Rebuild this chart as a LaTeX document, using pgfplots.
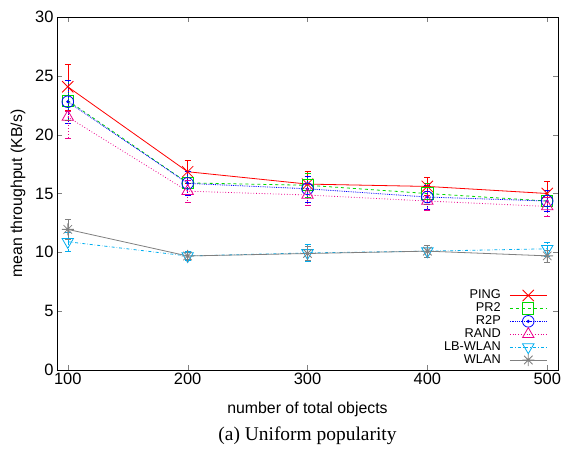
\documentclass[border=0pt]{standalone}
\usepackage{pgfplots}
\pgfplotsset{compat=1.18}
\usepackage{fontspec}
\setmainfont{Liberation Sans}
\newfontfamily\serif{Liberation Serif}
\definecolor{gpgreen}{RGB}{0,215,0}
\definecolor{gpgray}{RGB}{128,128,128}
\pgfdeclareplotmark{gpstar}{%
  \pgfpathmoveto{\pgfqpoint{-\pgfplotmarksize}{0pt}}\pgfpathlineto{\pgfqpoint{\pgfplotmarksize}{0pt}}%
  \pgfpathmoveto{\pgfqpoint{0pt}{-\pgfplotmarksize}}\pgfpathlineto{\pgfqpoint{0pt}{\pgfplotmarksize}}%
  \pgfpathmoveto{\pgfqpoint{-.7071\pgfplotmarksize}{-.7071\pgfplotmarksize}}\pgfpathlineto{\pgfqpoint{.7071\pgfplotmarksize}{.7071\pgfplotmarksize}}%
  \pgfpathmoveto{\pgfqpoint{-.7071\pgfplotmarksize}{.7071\pgfplotmarksize}}\pgfpathlineto{\pgfqpoint{.7071\pgfplotmarksize}{-.7071\pgfplotmarksize}}%
  \pgfusepathqstroke}
\pgfdeclareplotmark{odot}{%
  \pgfpathcircle{\pgfpointorigin}{\pgfplotmarksize}\pgfusepathqstroke
  \pgfpathcircle{\pgfpointorigin}{0.3\pgfplotmarksize}\pgfusepathqfill}
\tikzset{
  sPING/.style={color=red, solid, line width=0.8bp, mark=x, mark size=8bp, mark options={solid}},
  sPR2/.style={color=gpgreen, dashed, line width=0.8bp, mark=square, mark size=5.6bp, mark options={solid}},
  sR2P/.style={color=blue, densely dotted, line width=0.8bp, mark=odot, mark size=5.8bp, mark options={solid}},
  sRAND/.style={color=magenta, dotted, line width=0.8bp, mark=triangle, mark size=6.6bp, mark options={solid}},
  sLB/.style={color=cyan, dashdotted, line width=0.8bp, mark=triangle, mark size=6.6bp, mark options={solid, rotate=180}},
  sWLAN/.style={color=gpgray, solid, line width=0.8bp, mark=gpstar, mark size=6bp, mark options={solid}},
}
\pgfplotsset{
  eb/.style={forget plot, error bars/.cd, y dir=both, y explicit, error mark options={rotate=90, mark size=3bp}},
}
\newcommand\legimg[2]{\addlegendimage{#1, legend image code/.code={%
  \draw[overlay,#1] plot coordinates {(18.5bp,0bp)};
  \draw[overlay,#2] (0bp,0bp) -- (37bp,0bp);
  \pgfpathrectangle{\pgfqpoint{0bp}{-4bp}}{\pgfqpoint{37bp}{8bp}}\pgfusepath{}}}}
\begin{document}
\begin{tikzpicture}
\begin{axis}[
  scale only axis, width=501bp, height=353bp,
  xmin=91, xmax=509, ymin=0, ymax=30,
  xtick={100,200,300,400,500}, ytick={0,5,...,30},
  tick align=inside, tick pos=both,
  major tick length=5bp,
  /pgf/number format/assume math mode=true,
  tick label style={font=\fontsize{16.5}{18}\selectfont},
  xlabel={number of total objects},
  ylabel={mean throughput (KB/s)},
  xlabel style={font=\fontsize{15.9}{18}\selectfont, at={(axis description cs:0.5,-0.1105)}, anchor=center},
  ylabel style={font=\fontsize{15.9}{18}\selectfont, at={(axis description cs:-0.078,0.5)}, anchor=center},
  legend style={draw=none, fill=none, at={(0.978,0.011)}, anchor=south east,
    font=\fontsize{12.8}{13}\selectfont, inner sep=0pt,
    nodes={inner sep=0pt, text height=9.2bp, text depth=2.6bp},
    row sep=1.1bp, column sep=9bp,
    cells={anchor=east}},
  legend plot pos=right,
  clip=false,
]
\addplot[sPING, eb]
 coordinates {(100,24.07) +- (0,1.95) (200,16.85) +- (0,0.95) (300,15.8) +- (0,1.1) (400,15.6) +- (0,0.75) (500,15.0) +- (0,1.05)};
\addplot[sPR2, eb]
 coordinates {(100,22.9) +- (0,1.7) (200,15.9) +- (0,1.0) (300,15.7) +- (0,1.0) (400,15.0) +- (0,0.9) (500,14.36) +- (0,0.9)};
\addplot[sR2P, eb]
 coordinates {(100,22.8) +- (0,1.8) (200,15.86) +- (0,1.0) (300,15.4) +- (0,1.1) (400,14.7) +- (0,1.0) (500,14.36) +- (0,0.9)};
\addplot[sRAND, eb]
 coordinates {(100,21.5) += (0,0.5) -= (0,1.8) (200,15.2) +- (0,0.9) (300,14.87) +- (0,0.9) (400,14.36) +- (0,0.8) (500,13.9) +- (0,0.8)};
\addplot[sLB, eb]
 coordinates {(100,10.9) +- (0,0.8) (200,9.69) +- (0,0.4) (300,9.95) +- (0,0.7) (400,10.1) +- (0,0.5) (500,10.3) +- (0,0.6)};
\addplot[sWLAN, eb]
 coordinates {(100,11.95) +- (0,0.85) (200,9.69) +- (0,0.3) (300,9.9) +- (0,0.6) (400,10.1) +- (0,0.5) (500,9.7) +- (0,0.5)};
\legimg{sPING}{red, solid, line width=0.8bp}\addlegendentry{PING}
\legimg{sPR2}{gpgreen, dashed, line width=0.8bp}\addlegendentry{PR2}
\legimg{sR2P}{blue, densely dotted, line width=0.8bp}\addlegendentry{R2P}
\legimg{sRAND}{magenta, dotted, line width=0.8bp}\addlegendentry{RAND}
\legimg{sLB}{cyan, dashdotted, line width=0.8bp}\addlegendentry{LB-WLAN}
\legimg{sWLAN}{gpgray, solid, line width=0.8bp}\addlegendentry{WLAN}
\node[font=\serif\fontsize{19.5}{22}\selectfont, anchor=center] at (axis description cs:0.5,-0.187) {(a) Uniform popularity};
\path (rel axis cs:0,0) ++(-57bp,-84bp) coordinate (bbsw);
\path (rel axis cs:1,1) ++(4bp,17bp) coordinate (bbne);
\end{axis}
\pgfresetboundingbox
\path[use as bounding box] (bbsw) rectangle (bbne);
\end{tikzpicture}
\end{document}
